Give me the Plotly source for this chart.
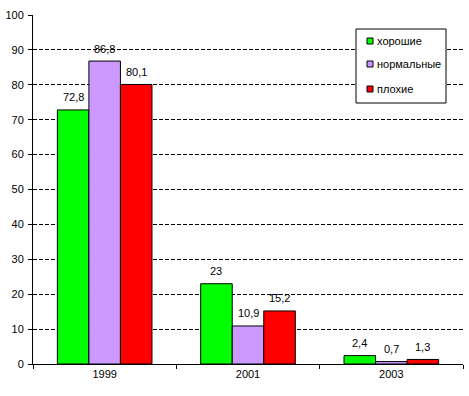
import plotly.graph_objects as go

years = ["1999", "2001", "2003"]
series_names = ["хорошие", "нормальные", "плохие"]
good = [72.8, 23, 2.4]
normal = [86.8, 10.9, 0.7]
bad = [80.1, 15.2, 1.3]
colors = ["#00FF00", "#CC99FF", "#FF0000"]
y_ticks = [0, 10, 20, 30, 40, 50, 60, 70, 80, 90, 100]

W, H = 469, 396
ML, MR, MT, MB = 33, 6, 15, 32
PW, PH = W - ML - MR, H - MT - MB
BARGAP = 0.34
FONT = "Liberation Sans, Arial"

def fmt(v):
    return ("%g" % v).replace(".", ",")

def px_x(p):
    return (p - ML) / PW

def px_y(p):
    return (H - MB - p) / PH

fig = go.Figure()
all_series = [good, normal, bad]
for i, (name, vals) in enumerate(zip(series_names, all_series)):
    fig.add_trace(go.Bar(
        x=years, y=vals, name=name,
        marker=dict(color=colors[i], line=dict(color="black", width=1)),
        showlegend=False,
    ))

# data labels (x given as category index)
bar_w = PW / len(years) * (1 - BARGAP) / 3
for i, vals in enumerate(all_series):
    for j, v in enumerate(vals):
        fig.add_annotation(x=j, y=v, xref="x", yref="y", text=fmt(v), showarrow=False,
                           xshift=(i - 1) * bar_w, yshift=12.5, yanchor="middle",
                           font=dict(family=FONT, size=11, color="black"))

# manual legend
shapes = [dict(type="rect", xref="paper", yref="paper",
               x0=px_x(356), x1=px_x(446), y0=px_y(103), y1=px_y(29),
               line=dict(color="black", width=1), fillcolor="white", layer="above")]
leg_y = [41, 64, 89]
for i, name in enumerate(series_names):
    cy = leg_y[i]
    shapes.append(dict(type="rect", xref="paper", yref="paper",
                       x0=px_x(367), x1=px_x(373), y0=px_y(cy + 3), y1=px_y(cy - 3),
                       line=dict(color="black", width=1), fillcolor=colors[i], layer="above"))
    fig.add_annotation(xref="paper", yref="paper", x=px_x(375), y=px_y(cy),
                       xanchor="left", yanchor="middle", text=name, showarrow=False,
                       font=dict(family=FONT, size=11, color="black"))

fig.update_layout(
    width=W, height=H,
    margin=dict(l=ML, r=MR, t=MT, b=MB),
    paper_bgcolor="white", plot_bgcolor="white",
    barmode="group", bargap=BARGAP, bargroupgap=0,
    font=dict(family=FONT, size=11, color="black"),
    showlegend=False,
    shapes=shapes,
    xaxis=dict(type="category", range=[-0.5, len(years) - 0.5],
               showline=True, linecolor="black", linewidth=1,
               ticks="outside", ticklen=4, tickcolor="black", tickson="boundaries",
               showgrid=False),
    yaxis=dict(range=[0, 100], tickvals=y_ticks, showline=True, linecolor="black",
               linewidth=1, ticks="outside", ticklen=4, tickcolor="black",
               ticklabelstandoff=2,
               showgrid=True, gridcolor="black", griddash="4px,2px", gridwidth=1,
               zeroline=False),
)
fig.write_html("out.html", config={"displayModeBar": False},
               post_script="document.body.style.margin='0px';")
